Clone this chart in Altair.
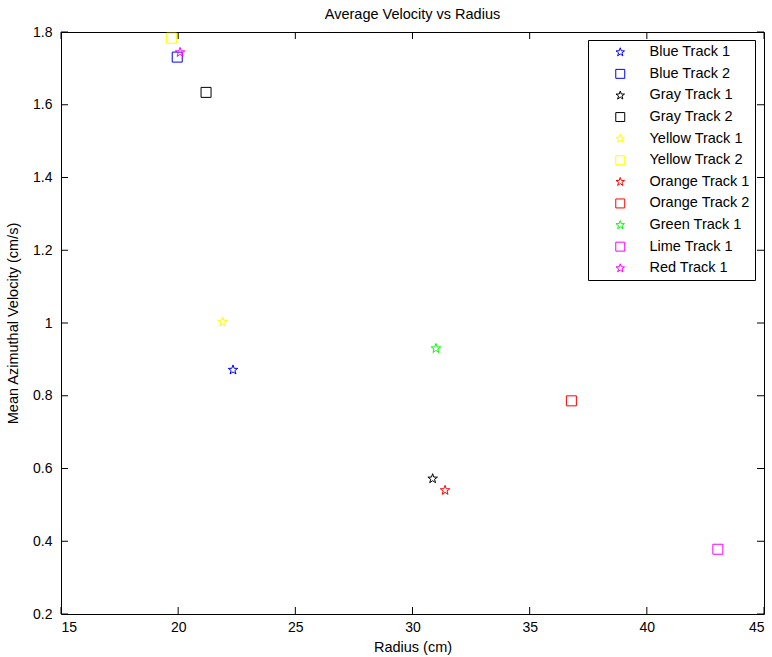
import altair as alt
import pandas as pd

series = ["Blue Track 1", "Blue Track 2", "Gray Track 1", "Gray Track 2",
          "Yellow Track 1", "Yellow Track 2", "Orange Track 1", "Orange Track 2",
          "Green Track 1", "Lime Track 1", "Red Track 1"]
radius = [22.34, 19.96, 30.86, 21.19, 21.90, 19.72, 31.39, 36.78, 31.00, 43.03, 20.08]
velocity = [0.871, 1.731, 0.572, 1.634, 1.003, 1.783, 0.540, 0.786, 0.930, 0.378, 1.744]
colors = ["#0000ff", "#0000ff", "#000000", "#000000", "#ffff00", "#ffff00",
          "#ff0000", "#ff0000", "#00ff00", "#ff00ff", "#ff00ff"]
marker_kind = ["star", "square", "star", "square", "star", "square",
               "star", "square", "star", "square", "star"]

x_ticks = [15, 20, 25, 30, 35, 40, 45]
y_ticks = [0.2, 0.4, 0.6, 0.8, 1.0, 1.2, 1.4, 1.6, 1.8]

STAR = ("M0,-1L0.235,-0.324L0.951,-0.309L0.380,0.124L0.588,0.809L0,0.4"
        "L-0.588,0.809L-0.380,0.124L-0.951,-0.309L-0.235,-0.324Z")
shapes = [STAR if m == "star" else "square" for m in marker_kind]

W, H, TL = 703, 582, 7

df = pd.DataFrame({"series": series, "radius": radius, "velocity": velocity})
xt = pd.DataFrame({"t": x_ticks})
yt = pd.DataFrame({"t": y_ticks})

FONT = "Liberation Sans"
xs = alt.Scale(domain=[15, 45], nice=False, zero=False)
ys = alt.Scale(domain=[0.2, 1.8], nice=False, zero=False)

main_x = alt.Axis(values=x_ticks, title="Radius (cm)", ticks=False, domain=False,
                  grid=False, labelPadding=6, labelFontSize=14, titleFontSize=14.5,
                  titleFontWeight="normal", titlePadding=6, labelFont=FONT,
                  titleFont=FONT, labelColor="#000", titleColor="#000")
main_y = alt.Axis(values=y_ticks, title="Mean Azimuthal Velocity (cm/s)", ticks=False,
                  domain=False, grid=False, labelPadding=9, format="~g",
                  labelFontSize=14, titleFontSize=14.5, titleFontWeight="normal",
                  titlePadding=12, labelFont=FONT, titleFont=FONT,
                  labelColor="#000", titleColor="#000")

color = alt.Color("series:N", scale=alt.Scale(domain=series, range=colors), title=None)
shape = alt.Shape("series:N", scale=alt.Scale(domain=series, range=shapes), title=None)

points = alt.Chart(df).mark_point(filled=False, size=100, strokeWidth=1, opacity=1).encode(
    x=alt.X("radius:Q", scale=xs, axis=main_x),
    y=alt.Y("velocity:Q", scale=ys, axis=main_y),
    color=color,
    shape=shape,
)

rule_style = dict(color="#000000", strokeWidth=1)
xb = alt.Chart(xt).mark_rule(**rule_style).encode(
    x=alt.X("t:Q", scale=xs), y=alt.value(H), y2=alt.value(H - TL))
xtop = alt.Chart(xt).mark_rule(**rule_style).encode(
    x=alt.X("t:Q", scale=xs), y=alt.value(0), y2=alt.value(TL))
yl = alt.Chart(yt).mark_rule(**rule_style).encode(
    y=alt.Y("t:Q", scale=ys), x=alt.value(0), x2=alt.value(TL))
yr = alt.Chart(yt).mark_rule(**rule_style).encode(
    y=alt.Y("t:Q", scale=ys), x=alt.value(W), x2=alt.value(W - TL))

chart = alt.layer(xb, xtop, yl, yr, points).properties(
    width=W, height=H,
    title=alt.TitleParams("Average Velocity vs Radius", font=FONT, fontSize=14.5,
                          fontWeight="normal", color="#000", offset=3, anchor="middle"),
    autosize=alt.AutoSizeParams(type="none"),
    padding={"left": 61, "top": 32, "right": 8, "bottom": 43},
).configure_view(
    stroke="#000", strokeWidth=1
).configure_legend(
    orient="none", legendX=527, legendY=8, strokeColor="#000", fillColor="#fff",
    padding=5, symbolSize=80, symbolStrokeWidth=1, symbolOffset=20,
    labelOffset=22, rowPadding=6.6, labelFontSize=14.5, labelFont=FONT,
    labelColor="#000", cornerRadius=0, symbolType="square"
)

chart.save("out.html", embed_options={"renderer": "svg", "actions": False})
